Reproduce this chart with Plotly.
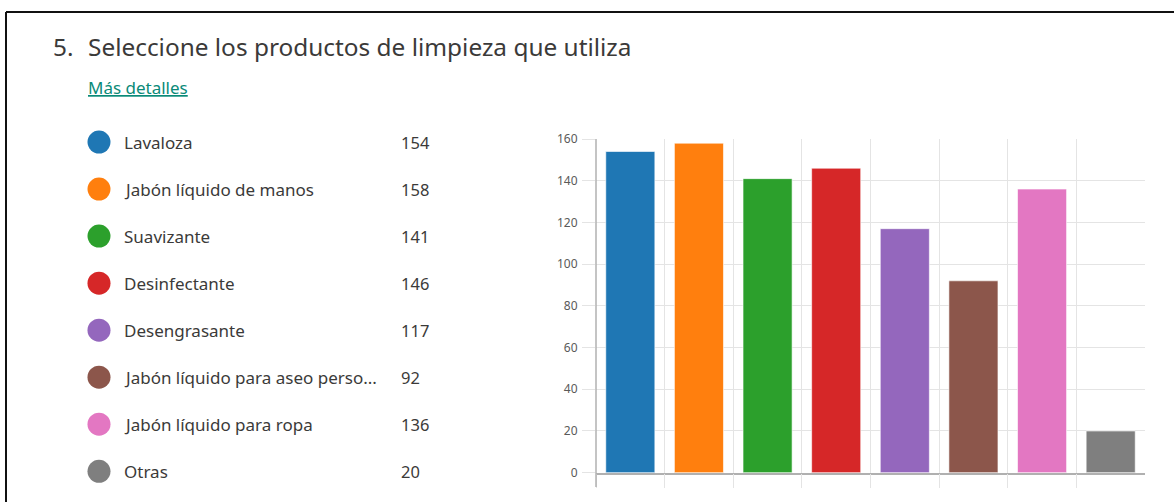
import plotly.graph_objects as go

# Survey question: cleaning products used (multiple choice)
question_number = "5."
question_text = "Seleccione los productos de limpieza que utiliza"
details_link = "Más detalles"

products = [
    "Lavaloza",
    "Jabón líquido de manos",
    "Suavizante",
    "Desinfectante",
    "Desengrasante",
    "Jabón líquido para aseo personal",
    "Jabón líquido para ropa",
    "Otras",
]
counts = [154, 158, 141, 146, 117, 92, 136, 20]
colors = ["#1f77b4", "#ff7f0e", "#2ca02c", "#d62728",
          "#9467bd", "#8c564b", "#e377c2", "#7f7f7f"]
y_ticks = [0, 20, 40, 60, 80, 100, 120, 140, 160]

W, H = 1174, 502
TEXT = "#3b3a39"
FONT = "Noto Sans"


def px_x(x):
    return x / W


def px_y(y):
    return 1 - y / H


def shorten(s, n=29):
    return s if len(s) <= n else s[:n] + "..."


idx = list(range(len(products)))

fig = go.Figure()

# Bar chart (one bar per product)
fig.add_trace(go.Bar(
    x=idx, y=counts,
    marker=dict(color=colors, line=dict(color="rgba(255,255,255,0.6)", width=1)),
    width=0.715,
    hoverinfo="x+y",
    xaxis="x", yaxis="y",
    showlegend=False,
))

# Left-hand list: colored dots with product name and count
fig.add_trace(go.Scatter(
    x=[99] * len(products), y=products,
    mode="markers",
    marker=dict(color=colors, size=23, line=dict(width=0)),
    xaxis="x2", yaxis="y2",
    hoverinfo="skip",
    showlegend=False,
    cliponaxis=False,
))

annotations = []
for name, c in zip(products, counts):
    annotations.append(dict(
        x=122, y=name, xref="x2", yref="y2", text=shorten(name),
        xanchor="left", yanchor="middle", showarrow=False,
        font=dict(family=FONT, size=17, color=TEXT),
    ))
    annotations.append(dict(
        x=399, y=name, xref="x2", yref="y2", text=str(c),
        xanchor="left", yanchor="middle", showarrow=False,
        font=dict(family=FONT, size=16.5, color=TEXT),
    ))

# Header
annotations.append(dict(
    x=px_x(51), y=px_y(46), xref="paper", yref="paper", text=question_number,
    xanchor="left", yanchor="middle", showarrow=False,
    font=dict(family=FONT, size=24.4, color=TEXT),
))
annotations.append(dict(
    x=px_x(86), y=px_y(46), xref="paper", yref="paper", text=question_text,
    xanchor="left", yanchor="middle", showarrow=False,
    font=dict(family=FONT, size=24.4, color=TEXT),
))
annotations.append(dict(
    x=px_x(86), y=px_y(87), xref="paper", yref="paper",
    text="<u>" + details_link + "</u>",
    xanchor="left", yanchor="middle", showarrow=False,
    font=dict(family=FONT, size=17, color="#0a8a78"),
))

shapes = [
    # card frame (top and left edges)
    dict(type="line", xref="paper", yref="paper",
         x0=px_x(6), x1=1, y0=px_y(12), y1=px_y(12),
         line=dict(color="#111111", width=2)),
    dict(type="line", xref="paper", yref="paper",
         x0=px_x(6), x1=px_x(6), y0=px_y(12), y1=0,
         line=dict(color="#111111", width=2)),
    # y-axis line extends below the baseline
    dict(type="line", xref="paper", yref="paper",
         x0=px_x(596), x1=px_x(596), y0=px_y(139), y1=px_y(487),
         line=dict(color="#b0b0b0", width=1.5)),
]

n = len(products)
fig.update_layout(
    width=W, height=H,
    margin=dict(l=0, r=0, t=0, b=0, pad=0, autoexpand=False),
    paper_bgcolor="white", plot_bgcolor="white",
    font=dict(family=FONT, color=TEXT),
    xaxis=dict(
        domain=[px_x(596), px_x(1145)],
        range=[-0.5, n - 0.5],
        tickvals=[i - 0.5 for i in range(n)],
        showticklabels=False,
        showgrid=True, gridcolor="#e4e4e4", gridwidth=1,
        ticks="outside", ticklen=14, tickcolor="#e4e4e4", tickwidth=1,
        showline=True, linecolor="#b0b0b0", linewidth=1.5,
        zeroline=False, fixedrange=True, automargin=False,
        anchor="y",
    ),
    yaxis=dict(
        domain=[px_y(472.7), px_y(139)],
        range=[0, 160],
        tickvals=y_ticks,
        showgrid=True, gridcolor="#e4e4e4", gridwidth=1,
        ticks="outside", ticklen=13, tickcolor="#e4e4e4",
        tickfont=dict(family=FONT, size=12, color="#5a5a5a"),
        ticklabelstandoff=2,
        showline=False, zeroline=False, fixedrange=True, automargin=False,
        anchor="x",
    ),
    xaxis2=dict(
        domain=[0, 0.5], range=[0, W * 0.5],
        visible=False, fixedrange=True, automargin=False, anchor="y2",
    ),
    yaxis2=dict(
        domain=[px_y(494.8), px_y(118.5)],
        type="category", categoryorder="array", categoryarray=products,
        range=[n - 0.5, -0.5],
        visible=False, fixedrange=True, automargin=False, anchor="x2",
    ),
    annotations=annotations,
    shapes=shapes,
    bargap=0.285,
)

fig.write_html("out.html")
